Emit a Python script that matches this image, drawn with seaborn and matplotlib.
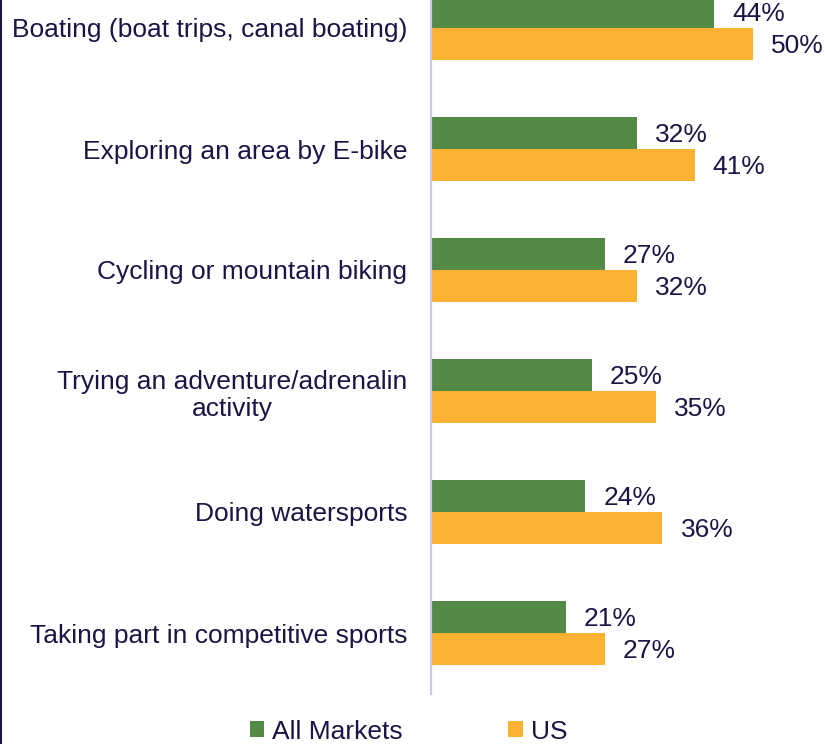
import matplotlib
matplotlib.use("Agg")
import matplotlib.pyplot as plt
import seaborn as sns
import pandas as pd
from matplotlib.lines import Line2D
from matplotlib.patches import Patch

activities = [
    "Boating (boat trips, canal boating)",
    "Exploring an area by E-bike",
    "Cycling or mountain biking",
    "Trying an adventure/adrenalin\nactivity",
    "Doing watersports",
    "Taking part in competitive sports",
]
markets = ["All Markets", "US"]
all_markets = [44, 32, 27, 25, 24, 21]
us = [50, 41, 32, 35, 36, 27]

colors = {"All Markets": "#538A45", "US": "#FBB232"}
text_color = "#1B1446"

df = pd.DataFrame({
    "Activity": activities * 2,
    "Market": ["All Markets"] * len(activities) + ["US"] * len(activities),
    "Share": all_markets + us,
})

sns.set_theme(style="white")
plt.rcParams["font.family"] = ["Liberation Sans", "DejaVu Sans"]

fig = plt.figure(figsize=(8.25, 7.44), dpi=100)
W, H = 825, 744
ax_left, ax_right = 431, 825
ax_top, ax_bottom = -32.5, 693.5
ax = fig.add_axes([ax_left / W, (H - ax_bottom) / H,
                   (ax_right - ax_left) / W, (ax_bottom - ax_top) / H])

sns.barplot(data=df, y="Activity", x="Share", hue="Market",
            order=activities, hue_order=markets, palette=colors,
            orient="h", width=0.53, ax=ax, legend=False,
            saturation=1, edgecolor="none")

for cont in ax.containers:
    texts = ax.bar_label(cont, fmt="%d%%", padding=13, fontsize=19,
                         color=text_color)
    for t in texts:
        t.xyann = (13, -1.5)

ax.set_xlim(0, (ax_right - ax_left) / 6.43)
ax.set_ylim(5.5, -0.5)
ax.set_xlabel("")
ax.set_ylabel("")
ax.set_xticks([])
ax.tick_params(axis="y", length=0, pad=17, labelsize=19, labelcolor=text_color)
for lbl in ax.get_yticklabels():
    lbl.set_horizontalalignment("right")
    lbl.set_multialignment("center")

for side in ["top", "right", "bottom"]:
    ax.spines[side].set_visible(False)
ax.spines["left"].set_color("#C9C8EE")
ax.spines["left"].set_linewidth(1.6)

# dark frame edge on the left
fig.add_artist(Line2D([1 / W, 1 / W], [0, 1], color=text_color, linewidth=1.5,
                      transform=fig.transFigure))

handles = [Patch(facecolor=colors[m], edgecolor="none", label=m) for m in markets]
fig.legend(handles=handles, loc="center", bbox_to_anchor=(0.495, 0.0165),
           ncol=2, frameon=False, fontsize=19, handlelength=0.55,
           handleheight=0.55, handletextpad=0.3, columnspacing=4.0,
           labelcolor=text_color, borderpad=0)

fig.savefig("out.png", dpi=100)
